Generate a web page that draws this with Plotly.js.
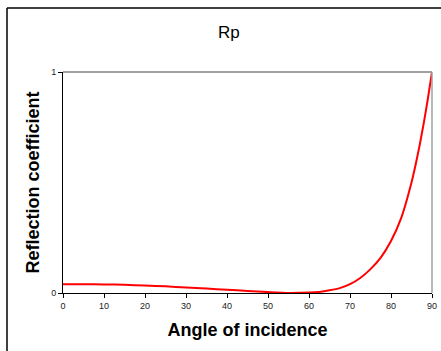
<!DOCTYPE html>
<html>
<head>
<meta charset="utf-8">
<script src="https://cdn.plot.ly/plotly-3.0.1.min.js"></script>
<style>
html,body{margin:0;padding:0;background:#fff;}
#chart{width:441px;height:351px;}
</style>
</head>
<body>
<div id="chart"></div>
<script>
const angles = [0,5,10,15,20,25,30,35,40,45,50,55,60,62.5,65,67.5,70,72.5,75,77.5,80,82.5,85,86,87,88,89,90];
const rp = [0.040,0.040,0.039,0.037,0.034,0.030,0.025,0.020,0.015,0.009,0.004,0.000,0.002,0.005,0.012,0.022,0.040,0.068,0.108,0.160,0.235,0.340,0.500,0.580,0.670,0.770,0.880,1.000];
const xTicks = [0,10,20,30,40,50,60,70,80,90];
const yTicks = [0,1];

const font = "Arial, 'Liberation Sans', sans-serif";
const data = [{
  x: angles, y: rp, type: 'scatter', mode: 'lines',
  line: {color: '#ff0000', width: 2, shape: 'spline', smoothing: 0.6},
  hoverinfo: 'skip'
}];
const layout = {
  width: 441, height: 351,
  margin: {l: 63, r: 9, t: 72, b: 58},
  paper_bgcolor: '#ffffff', plot_bgcolor: '#ffffff',
  showlegend: false,
  title: {text: 'Rp', font: {family: font, size: 17, color: '#000'}, x: 0.519, xanchor: 'center', y: 0.908, yanchor: 'middle'},
  xaxis: {
    range: [0, 90], tickvals: xTicks, ticktext: xTicks.map(String),
    showgrid: false, zeroline: false, showline: true, linecolor: '#000', linewidth: 1,
    ticks: 'outside', ticklen: 4, tickcolor: '#000', tickwidth: 1,
    tickfont: {family: font, size: 9, color: '#222'},
    title: {text: 'Angle of incidence', font: {family: font, size: 18, color: '#000', weight: 'bold'}, standoff: 13}
  },
  yaxis: {
    range: [0, 1], tickvals: yTicks, ticktext: yTicks.map(String),
    showgrid: false, zeroline: false, showline: true, linecolor: '#000', linewidth: 1,
    ticks: 'outside', ticklen: 4, tickcolor: '#000', tickwidth: 1,
    tickfont: {family: font, size: 9, color: '#222'},
    title: {text: 'Reflection coefficient', font: {family: font, size: 18, color: '#000', weight: 'bold'}, standoff: 6}
  },
  shapes: [
    {type: 'line', xref: 'paper', yref: 'paper', x0: 0, x1: 1, y0: 1, y1: 1, line: {color: '#808080', width: 1.5}},
    {type: 'line', xref: 'paper', yref: 'paper', x0: 1, x1: 1, y0: 0, y1: 1, line: {color: '#a0a0a0', width: 1.5}},
    {type: 'line', xref: 'paper', yref: 'paper', x0: (7-63)/369, x1: 1.1, y0: (293-8)/221, y1: (293-8)/221, line: {color: '#000', width: 1.5}},
    {type: 'line', xref: 'paper', yref: 'paper', x0: (7-63)/369, x1: (7-63)/369, y0: (293-8)/221, y1: -0.4, line: {color: '#000', width: 1.5}}
  ]
};
Plotly.newPlot('chart', data, layout, {displayModeBar: false, staticPlot: true});
</script>
</body>
</html>
